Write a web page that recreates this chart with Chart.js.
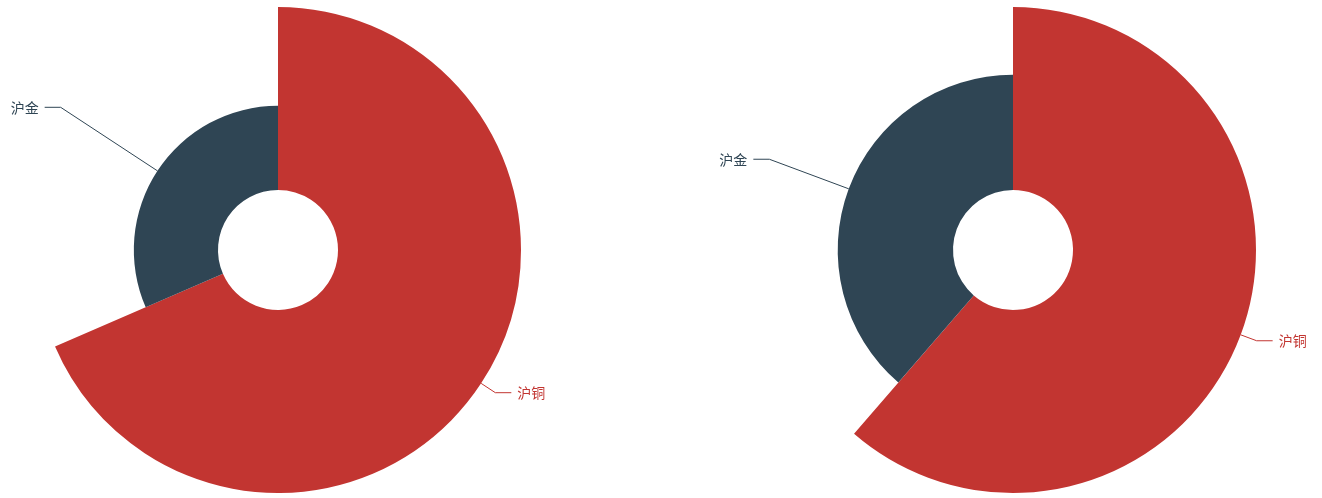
<!DOCTYPE html>
<html>
<head>
<meta charset="utf-8">
<script src="https://cdn.jsdelivr.net/npm/chart.js@4"></script>
<style>
  html, body { margin: 0; padding: 0; background: #fff; overflow: hidden; }
  .wrap { position: absolute; top: 0; height: 498px; }
  #left { left: 0; width: 556px; }
  #right { left: 704px; width: 618px; }
</style>
</head>
<body>
<div class="wrap" id="left"><canvas id="c1"></canvas></div>
<div class="wrap" id="right"><canvas id="c2"></canvas></div>
<script>
const categories = ["沪铜", "沪金"];
const leftValues = [100, 46];
const rightValues = [100, 63];
const colors = ["#c23531", "#2f4554"];

// rose type: each slice gets a radius that grows with its value
const rosePlugin = {
  id: "rose",
  afterDatasetsUpdate(chart) {
    const meta = chart.getDatasetMeta(0);
    const data = chart.data.datasets[0].data;
    const max = Math.max(...data);
    meta.data.forEach((arc, i) => {
      const full = arc.outerRadius;
      arc._fullR = full;
      arc.outerRadius = arc.innerRadius + (full - arc.innerRadius) * data[i] / max;
    });
  }
};

// outside labels with leader lines
const labelPlugin = {
  id: "outLabels",
  afterDatasetsDraw(chart) {
    const ctx = chart.ctx;
    const meta = chart.getDatasetMeta(0);
    ctx.save();
    ctx.font = '14px "Noto Sans CJK SC", "Microsoft YaHei", sans-serif';
    ctx.textBaseline = "middle";
    meta.data.forEach((arc, i) => {
      const mid = (arc.startAngle + arc.endAngle) / 2;
      const cos = Math.cos(mid), sin = Math.sin(mid);
      const x0 = arc.x + arc.outerRadius * cos, y0 = arc.y + arc.outerRadius * sin;
      const r1 = arc._fullR + 17;
      const x1 = arc.x + r1 * cos, y1 = arc.y + r1 * sin;
      const dir = cos < 0 ? -1 : 1;
      const x2 = x1 + dir * 16;
      const col = colors[i];
      ctx.strokeStyle = col;
      ctx.lineWidth = 1;
      ctx.beginPath();
      ctx.moveTo(x0, y0);
      ctx.lineTo(x1, y1);
      ctx.lineTo(x2, y1);
      ctx.stroke();
      ctx.fillStyle = col;
      ctx.textAlign = dir < 0 ? "right" : "left";
      ctx.fillText(chart.data.labels[i], x2 + dir * 6, y1);
    });
    ctx.restore();
  }
};

function makeRose(id, values) {
  new Chart(document.getElementById(id), {
    type: "doughnut",
    data: {
      labels: categories,
      datasets: [{
        data: values,
        backgroundColor: colors,
        borderWidth: 0
      }]
    },
    options: {
      responsive: true,
      maintainAspectRatio: false,
      animation: false,
      events: [],
      cutout: 60,
      layout: { padding: { top: 7, bottom: 5 } },
      plugins: {
        legend: { display: false },
        tooltip: { enabled: false }
      }
    },
    plugins: [rosePlugin, labelPlugin]
  });
}

makeRose("c1", leftValues);
makeRose("c2", rightValues);
</script>
</body>
</html>
